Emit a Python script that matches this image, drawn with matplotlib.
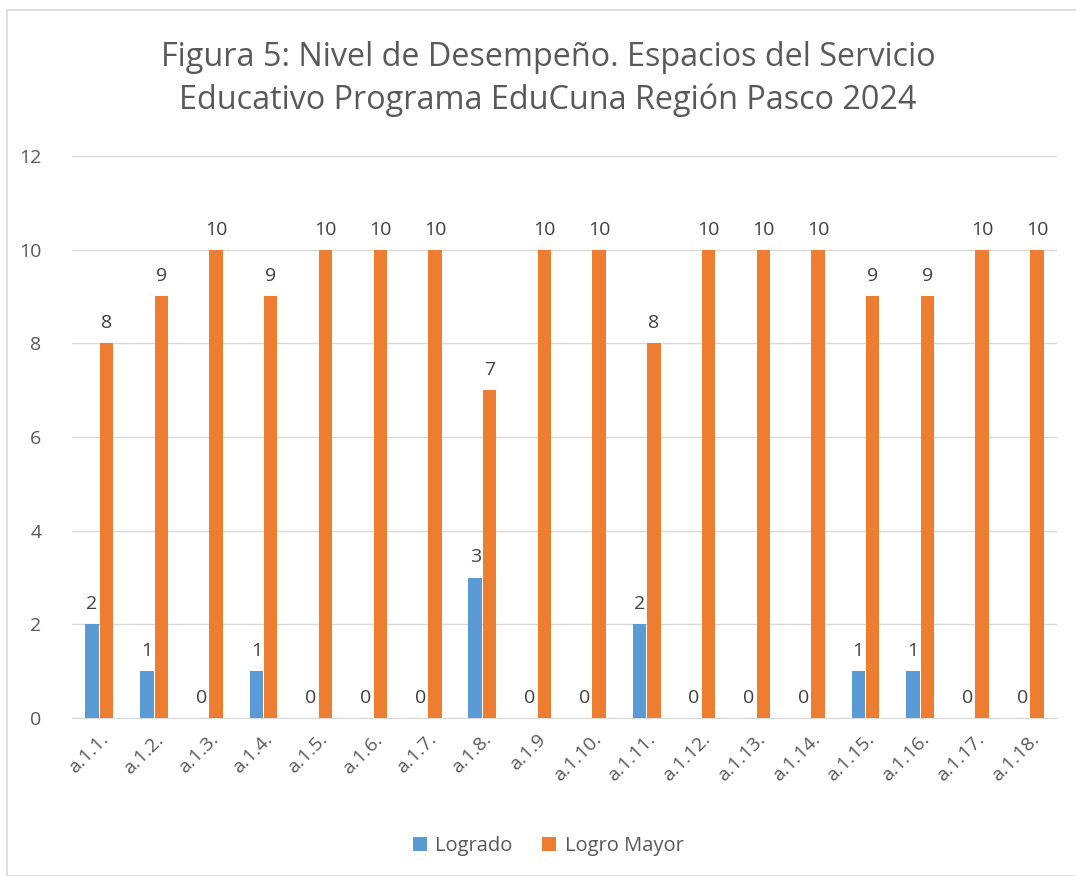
import matplotlib
matplotlib.use("Agg")
import matplotlib.pyplot as plt
import numpy as np
from matplotlib.patches import Rectangle

categories = ["a.1.1.", "a.1.2.", "a.1.3.", "a.1.4.", "a.1.5.", "a.1.6.", "a.1.7.", "a.1.8.", "a.1.9",
              "a.1.10.", "a.1.11.", "a.1.12.", "a.1.13.", "a.1.14.", "a.1.15.", "a.1.16.", "a.1.17.", "a.1.18."]
logrado = [2, 1, 0, 1, 0, 0, 0, 3, 0, 0, 2, 0, 0, 0, 1, 1, 0, 0]
logro_mayor = [8, 9, 10, 9, 10, 10, 10, 7, 10, 10, 8, 10, 10, 10, 9, 9, 10, 10]
title = "Figura 5: Nivel de Desempeño. Espacios del Servicio\nEducativo Programa EduCuna Región Pasco 2024"

plt.rcParams['font.family'] = ['Open Sans', 'DejaVu Sans']
text_color = "#595959"
blue = "#5B9BD5"
orange = "#ED7D31"

fig = plt.figure(figsize=(10.76, 8.76), dpi=100)
ax = fig.add_axes([72/1076, 1-718/876, (1057-72)/1076, (718-156)/876])

x = np.arange(len(categories))
w = 0.245
gap = 0.02
b1 = ax.bar(x - w/2 - gap/2, logrado, w, color=blue, label="Logrado", zorder=3)
b2 = ax.bar(x + w/2 + gap/2, logro_mayor, w, color=orange, label="Logro Mayor", zorder=3)

for bars in (b1, b2):
    ax.bar_label(bars, padding=8, fontsize=14, color="#404040")

ax.set_xlim(-0.5, len(categories) - 0.5)
ax.set_ylim(0, 12)
ax.set_yticks(range(0, 13, 2))
ax.set_xticks(x)
ax.set_xticklabels(categories, rotation=45, ha="right", rotation_mode="anchor", fontsize=14, color=text_color)
ax.tick_params(axis="y", labelsize=14, labelcolor=text_color, length=0, pad=22)
ax.tick_params(axis="x", length=0, pad=9)
ax.grid(axis="y", color="#D9D9D9", linewidth=1, zorder=0)
for s in ["top", "right", "left"]:
    ax.spines[s].set_visible(False)
ax.spines["bottom"].set_color("#D9D9D9")

fig.suptitle(title, x=548/1076, y=1-41/876, fontsize=23.3, color=text_color, linespacing=1.38)

fig.legend(handles=[b1, b2], labels=["Logrado", "Logro Mayor"], loc="center", bbox_to_anchor=(548/1076, 1-846/876),
           ncol=2, frameon=False, fontsize=14.5, handlelength=0.7, handleheight=0.7, columnspacing=1.5,
           handletextpad=0.4, labelcolor=text_color)

fig.patches.append(Rectangle((7/1076, 0), 1.2, 1 - 10/876, transform=fig.transFigure,
                             fill=False, edgecolor="#D9D9D9", linewidth=1.2))

fig.savefig("out.png", dpi=100)
